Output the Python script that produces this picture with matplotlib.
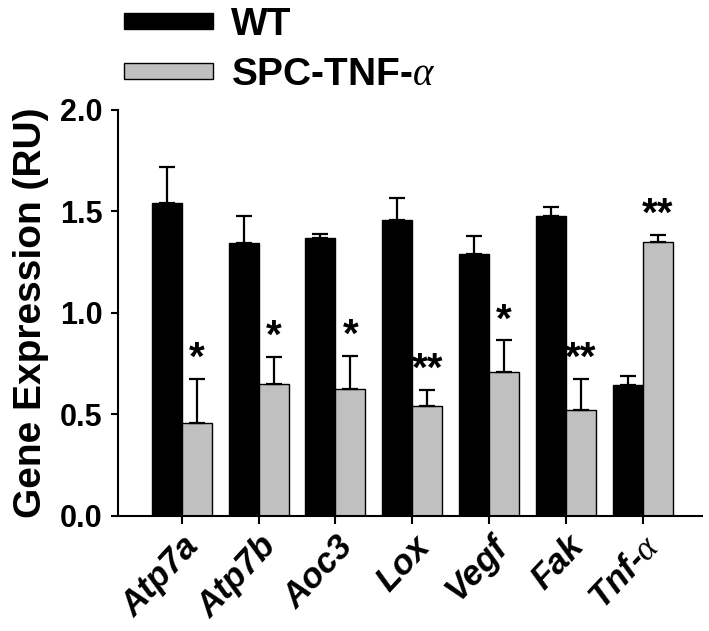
import numpy as np
import matplotlib
matplotlib.use("Agg")
import matplotlib.pyplot as plt

plt.rcParams['font.family'] = ['Liberation Sans', 'DejaVu Sans']
plt.rcParams['font.weight'] = 'bold'
# thin italic greek alpha like the original
plt.rcParams['mathtext.fontset'] = 'custom'
plt.rcParams['mathtext.it'] = 'Liberation Serif:italic:normal'
plt.rcParams['mathtext.rm'] = 'Liberation Sans:bold'

genes = ['Atp7a', 'Atp7b', 'Aoc3', 'Lox', 'Vegf', 'Fak', r'Tnf-$\alpha$']
wt = [1.54, 1.345, 1.37, 1.46, 1.29, 1.48, 0.645]
wt_err = [0.18, 0.135, 0.02, 0.105, 0.09, 0.04, 0.045]
spc = [0.46, 0.65, 0.625, 0.54, 0.71, 0.52, 1.35]
spc_err = [0.215, 0.135, 0.165, 0.08, 0.155, 0.155, 0.035]
stars = ['*', '*', '*', '**', '*', '**', '**']

fig = plt.figure(figsize=(7.09, 6.31), dpi=100)
ax = fig.add_axes([0.1664, 0.1823, 0.8236, 0.6434])

x = np.arange(len(genes))
w = 0.39
b1 = ax.bar(x - w / 2, wt, w, color='black', edgecolor='black', linewidth=1,
            yerr=[np.zeros(len(wt)), wt_err], capsize=6,
            error_kw=dict(ecolor='black', elinewidth=1.6, capthick=1.6))
b2 = ax.bar(x + w / 2, spc, w, color='#c0c0c0', edgecolor='black', linewidth=1,
            yerr=[np.zeros(len(spc)), spc_err], capsize=6,
            error_kw=dict(ecolor='black', elinewidth=1.6, capthick=1.6))

for xi, v, e, s in zip(x, spc, spc_err, stars):
    ax.text(xi + w / 2, v + e + 0.005, s, ha='center', va='bottom',
            fontsize=29, fontweight='bold')

ax.set_xlim(-0.83, 6.77)
ax.set_ylim(0, 2.0)
ax.set_yticks([0, 0.5, 1.0, 1.5, 2.0])
ax.set_yticklabels(['0.0', '0.5', '1.0', '1.5', '2.0'], fontsize=22, fontweight='bold')
ax.set_xticks(x)
ax.set_xticklabels(genes, rotation=47, ha='right', rotation_mode='anchor',
                   fontsize=25, fontweight='bold', fontstyle='italic')
ax.tick_params(axis='y', direction='out', length=5, width=1.5, pad=6)
ax.tick_params(axis='x', direction='out', length=6, width=1.5, pad=4)
ax.spines['top'].set_visible(False)
ax.spines['right'].set_visible(False)
ax.spines['left'].set_linewidth(1.5)
ax.spines['bottom'].set_linewidth(1.5)
ax.set_ylabel('Gene Expression (RU)', fontsize=28, fontweight='bold', labelpad=8)

fig.legend(handles=[b1, b2], labels=['WT', r'SPC-TNF-$\alpha$'], loc='upper left',
           bbox_to_anchor=(0.125, 1.045), frameon=False,
           handlelength=2.3, handleheight=0.26, handletextpad=0.45, labelspacing=0.38,
           prop=dict(weight='bold', size=28))

fig.savefig('out.png', dpi=100)
